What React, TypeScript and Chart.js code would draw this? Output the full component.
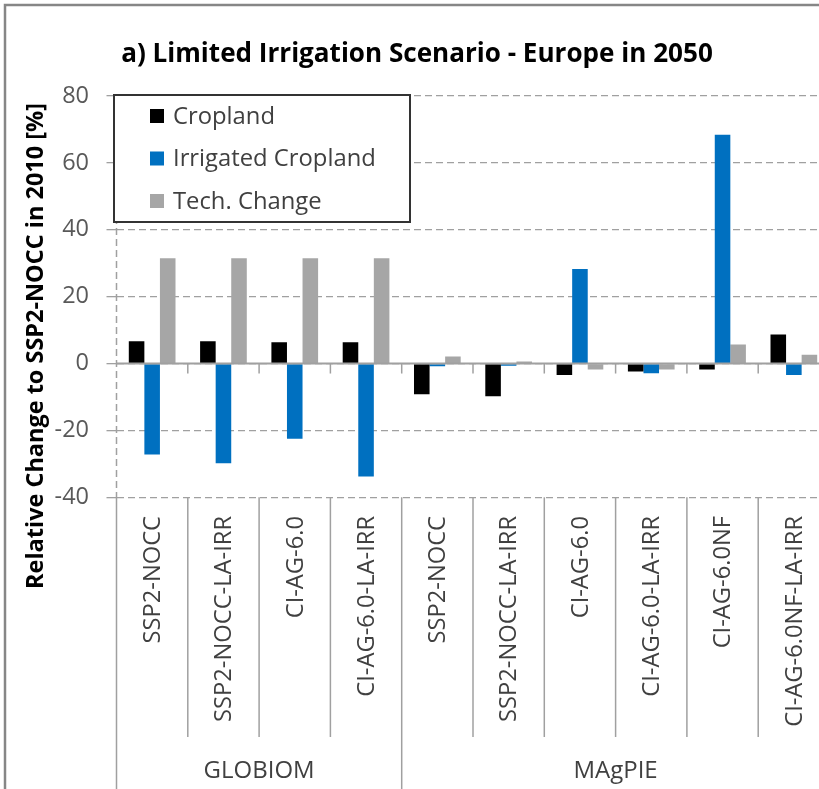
import { useEffect, useRef } from 'react';
import { Chart, registerables } from 'chart.js';

Chart.register(...registerables);

// ---------- data ----------
const categories = [
  'SSP2-NOCC',
  'SSP2-NOCC-LA-IRR',
  'CI-AG-6.0',
  'CI-AG-6.0-LA-IRR',
  'SSP2-NOCC',
  'SSP2-NOCC-LA-IRR',
  'CI-AG-6.0',
  'CI-AG-6.0-LA-IRR',
  'CI-AG-6.0NF',
  'CI-AG-6.0NF-LA-IRR',
];
const groupNames = ['GLOBIOM', 'MAgPIE'];
const groupSizes = [4, 6];
const seriesNames = ['Cropland', 'Irrigated Cropland', 'Tech. Change'];
const cropland = [6.7, 6.7, 6.4, 6.4, -9.2, -9.8, -3.4, -2.4, -1.8, 8.7];
const irrigatedCropland = [-27.2, -29.8, -22.5, -33.8, -0.8, -0.7, 28.3, -2.9, 68.4, -3.4];
const techChange = [31.5, 31.5, 31.5, 31.5, 2.1, 0.6, -1.8, -1.8, 5.7, 2.6];
const yTicks = [-40, -20, 0, 20, 40, 60, 80];
const titleText = 'a) Limited Irrigation Scenario - Europe in 2050';
const yTitleText = 'Relative Change to SSP2-NOCC in 2010 [%]';

// ---------- style ----------
const FONT = '"Open Sans", "Noto Sans", sans-serif';
const COLORS = ['#000000', '#0070c0', '#a6a6a6'];
const GRID = '#a0a0a0';
const W = 850;
const H = 789;

function fitSize(ctx: CanvasRenderingContext2D, text: string, weight: string, target: number) {
  ctx.font = `${weight} 100px ${FONT}`;
  const w = ctx.measureText(text).width;
  return (100 * target) / w;
}

const decor = {
  id: 'decor',
  beforeDraw(chart: any) {
    const { ctx } = chart;
    ctx.save();
    ctx.fillStyle = '#ffffff';
    ctx.fillRect(0, 0, chart.width, chart.height);
    ctx.strokeStyle = '#868686';
    ctx.lineWidth = 2.5;
    ctx.strokeRect(5, 5, chart.width + 20, chart.height + 20);
    ctx.restore();
  },
  afterDatasetsDraw(chart: any) {
    const { ctx, chartArea } = chart;
    const x = chart.scales.x;
    const y = chart.scales.y;
    const y0 = y.getPixelForValue(0);
    ctx.save();
    ctx.strokeStyle = GRID;
    ctx.lineWidth = 2;
    ctx.beginPath();
    ctx.moveTo(chartArea.left, y0);
    ctx.lineTo(chartArea.right, y0);
    ctx.stroke();
    ctx.lineWidth = 1.5;
    const n = categories.length;
    const cw = (chartArea.right - chartArea.left) / n;
    for (let i = 1; i < n; i++) {
      const bx = x.getPixelForValue(i) - cw / 2;
      ctx.beginPath();
      ctx.moveTo(bx, y0);
      ctx.lineTo(bx, y0 + 10);
      ctx.stroke();
    }
    ctx.restore();
  },
  afterDraw(chart: any) {
    const { ctx, chartArea } = chart;
    const x = chart.scales.x;
    const n = categories.length;
    const cw = (chartArea.right - chartArea.left) / n;
    const top = chartArea.top;
    const bottom = chartArea.bottom;
    ctx.save();

    // left dashed axis line
    ctx.strokeStyle = GRID;
    ctx.lineWidth = 1.5;
    ctx.setLineDash([7, 4]);
    ctx.beginPath();
    ctx.moveTo(chartArea.left, top);
    ctx.lineTo(chartArea.left, bottom);
    ctx.stroke();
    ctx.setLineDash([]);

    // category separators below the plot
    const groupStarts: number[] = [0];
    groupSizes.forEach((s, i) => groupStarts.push(groupStarts[i] + s));
    for (let i = 0; i <= n; i++) {
      const bx = i === n ? chartArea.right : x.getPixelForValue(i) - cw / 2;
      const isGroup = groupStarts.includes(i);
      ctx.beginPath();
      ctx.moveTo(bx, bottom);
      ctx.lineTo(bx, isGroup ? chart.height : 737);
      ctx.stroke();
    }

    // category labels
    const catSize = fitSize(ctx, 'SSP2-NOCC-LA-IRR', '400', 206);
    ctx.font = `400 ${catSize}px ${FONT}`;
    ctx.fillStyle = '#404040';
    ctx.textAlign = 'right';
    ctx.textBaseline = 'middle';
    categories.forEach((c, i) => {
      const cx = x.getPixelForValue(i);
      ctx.save();
      ctx.translate(cx + 1, 516);
      ctx.rotate(-Math.PI / 2);
      ctx.fillText(c, 0, 0);
      ctx.restore();
    });

    // group labels
    const grpSize = fitSize(ctx, 'GLOBIOM', '400', 111);
    ctx.font = `400 ${grpSize}px ${FONT}`;
    ctx.textAlign = 'center';
    groupNames.forEach((g, gi) => {
      const a = groupStarts[gi];
      const b = groupStarts[gi + 1];
      const x1 = x.getPixelForValue(a) - cw / 2;
      const x2 = b === n ? chartArea.right : x.getPixelForValue(b) - cw / 2;
      ctx.fillText(g, (x1 + x2) / 2, 771);
    });

    // legend
    ctx.fillStyle = '#ffffff';
    ctx.fillRect(114, 95, 296, 127);
    ctx.strokeStyle = '#333333';
    ctx.lineWidth = 2;
    ctx.strokeRect(114, 95, 296, 127);
    const legSize = fitSize(ctx, 'Irrigated Cropland', '400', 203);
    ctx.font = `400 ${legSize}px ${FONT}`;
    ctx.textAlign = 'left';
    ctx.textBaseline = 'middle';
    const rows = [116, 158.5, 201];
    chart.data.datasets.forEach((ds: any, i: number) => {
      ctx.fillStyle = ds.backgroundColor;
      ctx.fillRect(150, rows[i] - 7, 14, 14);
      ctx.fillStyle = '#404040';
      ctx.fillText(ds.label, 173, rows[i] + 1);
    });

    // title
    const tSize = fitSize(ctx, titleText, '700', 592);
    ctx.font = `700 ${tSize}px ${FONT}`;
    ctx.fillStyle = '#000000';
    ctx.textAlign = 'center';
    ctx.textBaseline = 'alphabetic';
    ctx.fillText(titleText, 417, 62);

    // y axis title
    const ySize = fitSize(ctx, yTitleText, '700', 486);
    ctx.font = `700 ${ySize}px ${FONT}`;
    ctx.save();
    ctx.translate(43, 346);
    ctx.rotate(-Math.PI / 2);
    ctx.textAlign = 'center';
    ctx.textBaseline = 'alphabetic';
    ctx.fillText(yTitleText, 0, 0);
    ctx.restore();

    ctx.restore();
  },
};

export default function App() {
  const ref = useRef<HTMLCanvasElement | null>(null);
  useEffect(() => {
    if (!ref.current) return;
    const chart = new Chart(ref.current, {
      type: 'bar',
      data: {
        labels: categories,
        datasets: [
          { label: seriesNames[0], data: cropland, backgroundColor: COLORS[0] },
          { label: seriesNames[1], data: irrigatedCropland, backgroundColor: COLORS[1] },
          { label: seriesNames[2], data: techChange, backgroundColor: COLORS[2] },
        ],
      },
      options: {
        responsive: false,
        animation: false,
        devicePixelRatio: 1,
        layout: { padding: { top: 96, left: 0, right: W - 829.5, bottom: H - 497.3 } },
        datasets: { bar: { categoryPercentage: 0.655, barPercentage: 1, borderWidth: 0 } },
        plugins: {
          legend: { display: false },
          title: { display: false },
          tooltip: { enabled: false },
        },
        scales: {
          x: { display: false },
          y: {
            min: -40,
            max: 80,
            afterBuildTicks: (s: any) => {
              s.ticks = yTicks.map((v) => ({ value: v }));
            },
            afterFit: (s: any) => {
              s.width = 116.5;
            },
            ticks: {
              color: '#595959',
              font: { family: FONT, size: 23.5 },
              padding: 17.5,
            },
            grid: {
              color: GRID,
              lineWidth: 1.3,
              drawTicks: true,
              tickLength: 10,
              tickColor: GRID,
              tickWidth: 1.3,
              tickBorderDash: [],
            },
            border: { display: false, dash: [7, 4] },
          },
        },
      },
      plugins: [decor],
    } as any);
    return () => chart.destroy();
  }, []);
  return (
    <div style={{ position: 'absolute', left: 0, top: 0, width: 819, height: 789, overflow: 'hidden', background: '#fff' }}>
      <canvas ref={ref} width={W} height={H} style={{ display: 'block' }} />
    </div>
  );
}
